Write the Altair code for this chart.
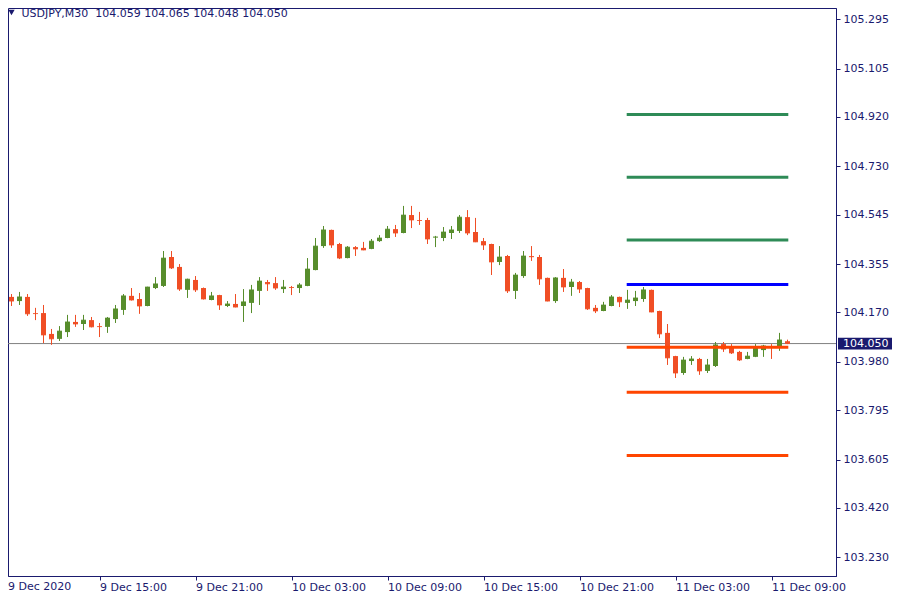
import json
import altair as alt
import pandas as pd

# ---- data ----
tick_labels = ["9 Dec 2020", "9 Dec 15:00", "9 Dec 21:00", "10 Dec 03:00", "10 Dec 09:00",
               "10 Dec 15:00", "10 Dec 21:00", "11 Dec 03:00", "11 Dec 09:00"]
tick_bars = [0, 12, 24, 36, 48, 60, 72, 84, 96]
price_ticks = [105.295, 105.105, 104.920, 104.730, 104.545, 104.355,
               104.170, 103.980, 103.795, 103.605, 103.420, 103.230]

opens = [104.179, 104.229, 104.213, 104.229, 104.167, 104.167, 104.087, 104.068, 104.094, 104.133,
         104.125, 104.140, 104.117, 104.114, 104.144, 104.179, 104.233, 104.221, 104.194, 104.263,
         104.271, 104.382, 104.344, 104.256, 104.294, 104.263, 104.217, 104.236, 104.194, 104.202,
         104.194, 104.206, 104.252, 104.286, 104.282, 104.259, 104.267, 104.263, 104.271, 104.332,
         104.424, 104.486, 104.432, 104.378, 104.420, 104.417, 104.413, 104.443, 104.455, 104.489,
         104.474, 104.543, 104.524, 104.524, 104.457, 104.455, 104.474, 104.482, 104.535, 104.478,
         104.443, 104.432, 104.363, 104.386, 104.252, 104.309, 104.386, 104.382, 104.302, 104.213,
         104.302, 104.267, 104.286, 104.263, 104.187, 104.175, 104.194, 104.229, 104.206, 104.213,
         104.221, 104.256, 104.175, 104.091, 104.002, 103.937, 103.983, 103.991, 103.945, 103.964,
         104.048, 104.037, 104.018, 103.991, 103.999, 104.025, 104.037, 104.033, 104.059]
highs = [104.240, 104.240, 104.248, 104.240, 104.187, 104.198, 104.106, 104.117, 104.160, 104.160,
         104.160, 104.152, 104.129, 104.152, 104.198, 104.240, 104.263, 104.244, 104.268, 104.305,
         104.405, 104.405, 104.355, 104.299, 104.309, 104.265, 104.248, 104.237, 104.213, 104.240,
         104.259, 104.275, 104.305, 104.294, 104.305, 104.294, 104.271, 104.282, 104.378, 104.455,
         104.501, 104.487, 104.436, 104.424, 104.424, 104.440, 104.451, 104.466, 104.501, 104.505,
         104.578, 104.578, 104.555, 104.532, 104.463, 104.497, 104.501, 104.543, 104.562, 104.532,
         104.455, 104.433, 104.424, 104.390, 104.321, 104.405, 104.424, 104.390, 104.303, 104.305,
         104.336, 104.298, 104.290, 104.264, 104.198, 104.210, 104.236, 104.230, 104.256, 104.252,
         104.267, 104.257, 104.176, 104.125, 104.003, 103.999, 104.002, 103.995, 103.991, 104.056,
         104.056, 104.048, 104.022, 104.018, 104.048, 104.045, 104.048, 104.091, 104.065]
lows = [104.175, 104.194, 104.198, 104.156, 104.140, 104.052, 104.045, 104.060, 104.075, 104.114,
        104.102, 104.112, 104.075, 104.091, 104.129, 104.160, 104.215, 104.164, 104.193, 104.259,
        104.267, 104.336, 104.252, 104.225, 104.248, 104.219, 104.216, 104.179, 104.190, 104.189,
        104.133, 104.167, 104.198, 104.252, 104.256, 104.244, 104.236, 104.244, 104.270, 104.331,
        104.417, 104.417, 104.374, 104.377, 104.386, 104.408, 104.412, 104.440, 104.454, 104.459,
        104.473, 104.493, 104.505, 104.432, 104.420, 104.443, 104.451, 104.474, 104.466, 104.439,
        104.409, 104.313, 104.351, 104.244, 104.221, 104.302, 104.367, 104.275, 104.212, 104.206,
        104.248, 104.233, 104.244, 104.179, 104.167, 104.174, 104.193, 104.190, 104.183, 104.194,
        104.210, 104.170, 104.071, 103.968, 103.918, 103.930, 103.968, 103.930, 103.937, 103.960,
        104.018, 104.010, 103.983, 103.990, 103.998, 103.999, 103.991, 104.022, 104.048]
closes = [104.225, 104.213, 104.229, 104.164, 104.165, 104.083, 104.068, 104.098, 104.133, 104.125,
          104.140, 104.114, 104.115, 104.148, 104.183, 104.233, 104.217, 104.194, 104.267, 104.279,
          104.378, 104.340, 104.259, 104.297, 104.256, 104.221, 104.233, 104.198, 104.202, 104.190,
          104.210, 104.256, 104.290, 104.279, 104.263, 104.267, 104.265, 104.275, 104.336, 104.424,
          104.486, 104.428, 104.378, 104.420, 104.413, 104.409, 104.443, 104.455, 104.489, 104.474,
          104.543, 104.524, 104.522, 104.451, 104.459, 104.478, 104.486, 104.535, 104.474, 104.440,
          104.428, 104.363, 104.382, 104.252, 104.313, 104.386, 104.383, 104.298, 104.213, 104.302,
          104.267, 104.286, 104.259, 104.183, 104.175, 104.198, 104.229, 104.210, 104.217, 104.225,
          104.256, 104.171, 104.087, 103.995, 103.937, 103.987, 103.991, 103.945, 103.968, 104.045,
          104.029, 104.014, 103.987, 104.002, 104.033, 104.041, 104.035, 104.064, 104.050]

level_prices = [104.929, 104.688, 104.447, 104.277, 104.036, 103.863, 103.621]
level_colors = ["#2e8b57", "#2e8b57", "#2e8b57", "#0000ff", "#ff4500", "#ff4500", "#ff4500"]
level_start_bar = 77.9
level_end_bar = 98.1

symbol_name = "USDJPY,M30"
last_ohlc = ["104.059", "104.065", "104.048", "104.050"]
last_price = 104.050

# ---- styling ----
NAVY = "#1a1a6e"
UP = "#578d2c"
DOWN = "#f04e25"
FONT = "DejaVu Sans"

candles = pd.DataFrame({
    "bar": list(range(len(opens))),
    "open": opens, "high": highs, "low": lows, "close": closes,
})
candles["col"] = [UP if c >= o else DOWN for o, c in zip(opens, closes)]

levels = pd.DataFrame({
    "price": level_prices,
    "col": level_colors,
    "start": [level_start_bar] * len(level_prices),
    "end": [level_end_bar] * len(level_prices),
})
last_df = pd.DataFrame({"price": [last_price], "label": [f"{last_price:.3f}"]})
head_df = pd.DataFrame({"t": [symbol_name + " \u00a0" + " ".join(last_ohlc)]})
first_label_df = pd.DataFrame({"t": [tick_labels[0]]})

x_scale = alt.Scale(domain=[0.5625, 104.0625], nice=False, zero=False, padding=0)
y_scale = alt.Scale(domain=[103.1584, 105.3372], nice=False, zero=False, padding=0)

label_expr = f"{json.dumps(tick_labels)}[round(datum.value / 12)]"
x_axis = alt.Axis(values=tick_bars, labelExpr=label_expr, orient="bottom", tickSize=4,
                  labelPadding=1, labelAlign="left", labelFont=FONT, labelFontSize=11,
                  labelColor=NAVY, tickColor=NAVY, domainColor=NAVY, grid=False, title=None,
                  labelOverlap=False, labelBound=False, labelFlush=False)
y_axis = alt.Axis(values=price_ticks, format=".3f", orient="right", tickSize=4, labelPadding=3,
                  labelFont=FONT, labelFontSize=11, labelColor=NAVY, tickColor=NAVY,
                  domainColor=NAVY, grid=False, title=None, labelOverlap=False, labelFlush=False)

X = lambda f: alt.X(f, type="quantitative", scale=x_scale, axis=x_axis)
Y = lambda f: alt.Y(f, type="quantitative", scale=y_scale, axis=y_axis)

price_line = alt.Chart(last_df).mark_rule(color="#808080", strokeWidth=1).encode(y=Y("price"))

wicks = alt.Chart(candles).mark_rule(strokeWidth=1).encode(
    x=X("bar"), y=Y("low"), y2="high", color=alt.Color("col:N", scale=None))
bodies = alt.Chart(candles).mark_bar(size=5, strokeWidth=0).encode(
    x=X("bar"), y=Y("open"), y2="close", color=alt.Color("col:N", scale=None))
dojis = alt.Chart(candles).mark_tick(thickness=1, size=5, orient="horizontal").encode(
    x=X("bar"), y=Y("close"), color=alt.Color("col:N", scale=None))

level_lines = alt.Chart(levels).mark_rule(strokeWidth=3, strokeCap="butt").encode(
    x=X("start"), x2="end", y=Y("price"), color=alt.Color("col:N", scale=None))

box_path = "M-1,-0.21L1,-0.21L1,0.21L-1,0.21Z"
price_box = alt.Chart(last_df).mark_point(shape=box_path, size=3136, filled=True, opacity=1,
                                          color=NAVY, strokeWidth=0).encode(
    x=alt.value(858), y=Y("price"))
price_text = alt.Chart(last_df).mark_text(align="left", baseline="middle", color="white",
                                          font=FONT, fontSize=11).encode(
    x=alt.value(835), y=Y("price"), text="label:N")

# first date label sits left of the visible plot edge in the original; keep it visible
first_label = alt.Chart(first_label_df).mark_text(align="left", baseline="top", color=NAVY,
                                                  font=FONT, fontSize=11).encode(
    x=alt.value(0), y=alt.value(573), text="t:N")

tri = alt.Chart(head_df).mark_point(shape="triangle-down", filled=True, size=40, opacity=1,
                                    color=NAVY).encode(x=alt.value(3.5), y=alt.value(4.5))
head = alt.Chart(head_df).mark_text(align="left", baseline="middle", color=NAVY, font=FONT,
                                    fontSize=11).encode(x=alt.value(13.5), y=alt.value(5.5),
                                                        text="t:N")

chart = alt.layer(price_line, wicks, bodies, dojis, level_lines, price_box, price_text,
                  first_label, tri, head
                  ).properties(
    width=828, height=568,
    padding={"left": 0, "top": 0, "right": 56, "bottom": 16},
    autosize=alt.AutoSizeParams(type="none"),
    background="white",
).configure_view(stroke=NAVY, strokeWidth=1)

chart.save("out.html", embed_options={"renderer": "svg", "actions": False})
